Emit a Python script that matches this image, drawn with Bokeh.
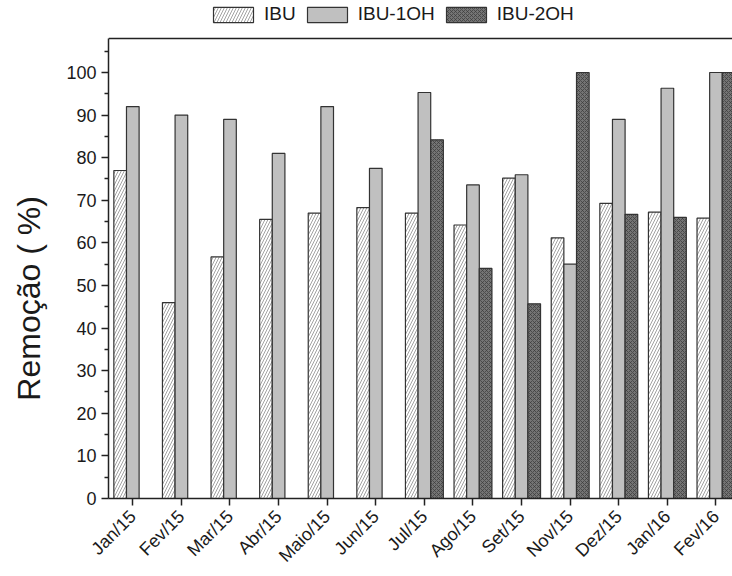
import numpy as np
from math import pi
from bokeh.plotting import figure
from bokeh.models import (Range1d, FixedTicker, Legend, LegendItem, Span,
                          ColumnDataSource)
from bokeh.embed import file_html
from bokeh.resources import INLINE

months = ["Jan/15", "Fev/15", "Mar/15", "Abr/15", "Maio/15", "Jun/15", "Jul/15",
          "Ago/15", "Set/15", "Nov/15", "Dez/15", "Jan/16", "Fev/16"]
ibu = [77.0, 46.0, 56.7, 65.5, 67.0, 68.3, 67.0, 64.2, 75.2, 61.2, 69.3, 67.2, 65.8]
ibu_1oh = [92.0, 90.0, 89.0, 81.0, 92.0, 77.5, 95.3, 73.6, 76.0, 55.0, 89.0, 96.3, 100.0]
ibu_2oh = [None, None, None, None, None, None, 84.2, 54.0, 45.7, 100.0, 66.7, 66.0, 100.0]
y_ticks = [0, 10, 20, 30, 40, 50, 60, 70, 80, 90, 100]
y_axis_max = 108

FONT = "Liberation Sans"
TXT = "#1a1a1a"
EDGE = "#333333"
bw = 0.26

idx = list(range(len(months)))

p = figure(width=732, height=576, output_backend="svg", toolbar_location=None,
           x_range=Range1d(-0.5, 12.34), y_range=Range1d(0, 116.9),
           min_border_left=108, min_border_right=0, min_border_top=0,
           min_border_bottom=78, background_fill_color="white",
           border_fill_color="white", outline_line_color=None)

src1 = ColumnDataSource(dict(x=[i - bw for i in idx], top=ibu))
src2 = ColumnDataSource(dict(x=list(idx), top=ibu_1oh))
x3 = [i + bw for i, v in zip(idx, ibu_2oh) if v is not None]
t3 = [v for v in ibu_2oh if v is not None]
src3 = ColumnDataSource(dict(x=x3, top=t3))

r1 = p.vbar(x="x", top="top", width=bw, bottom=0, source=src1,
            fill_color="white", line_color=EDGE, line_width=1.2,
            hatch_pattern="/", hatch_color="#8a8a8a", hatch_scale=6, hatch_weight=0.8)
r2 = p.vbar(x="x", top="top", width=bw, bottom=0, source=src2,
            fill_color="#c0c0c0", line_color=EDGE, line_width=1.2)
r3 = p.vbar(x="x", top="top", width=bw, bottom=0, source=src3,
            fill_color="#747474", line_color=EDGE, line_width=1.2,
            hatch_pattern="x", hatch_color="#3a3a3a", hatch_scale=4, hatch_weight=0.7)

p.xgrid.visible = False
p.ygrid.visible = False

# x axis
xa = p.xaxis[0]
xa.ticker = FixedTicker(ticks=idx)
xa.major_label_overrides = {i: m for i, m in enumerate(months)}
xa.major_label_orientation = pi / 4
xa.major_label_text_font = FONT
xa.major_label_text_font_size = "18px"
xa.major_label_text_color = TXT
xa.major_tick_out = 7
xa.major_tick_in = 0
xa.minor_tick_line_color = None
xa.axis_line_width = 1.5
xa.axis_line_color = "#222222"
xa.major_tick_line_width = 1.5
xa.major_tick_line_color = "#222222"
xa.major_label_standoff = 8

# y axis
ya = p.yaxis[0]
ya.bounds = (0, y_axis_max)
ya.ticker = FixedTicker(ticks=y_ticks,
                        minor_ticks=[v + 5 for v in y_ticks])
ya.major_label_text_font = FONT
ya.major_label_text_font_size = "18px"
ya.major_label_text_color = TXT
ya.major_tick_out = 7
ya.major_tick_in = 0
ya.minor_tick_out = 4
ya.minor_tick_in = 0
ya.axis_line_width = 1.5
ya.axis_line_color = "#222222"
ya.major_tick_line_width = 1.5
ya.minor_tick_line_width = 1.5
ya.major_tick_line_color = "#222222"
ya.minor_tick_line_color = "#222222"
ya.major_label_standoff = 5
ya.axis_label = "Remoção ( %)" + "\u00a0" * 11
ya.axis_label_text_font = FONT
ya.axis_label_text_font_size = "32px"
ya.axis_label_text_font_style = "normal"
ya.axis_label_text_color = TXT
ya.axis_label_standoff = 16

# top frame line
p.add_layout(Span(location=y_axis_max, dimension="width",
                  line_color="#222222", line_width=1.5))

legend = Legend(items=[LegendItem(label="IBU", renderers=[r1]),
                       LegendItem(label="IBU-1OH", renderers=[r2]),
                       LegendItem(label="IBU-2OH", renderers=[r3])],
                orientation="horizontal", location=(100, 473),
                glyph_width=50, glyph_height=19, label_standoff=6, spacing=6,
                padding=0, margin=0, border_line_color=None,
                background_fill_alpha=0, label_text_font=FONT,
                label_text_font_size="19px", label_text_color=TXT,
                label_height=19)
p.add_layout(legend, "center")

open("out.html", "w").write(file_html(p, INLINE))
